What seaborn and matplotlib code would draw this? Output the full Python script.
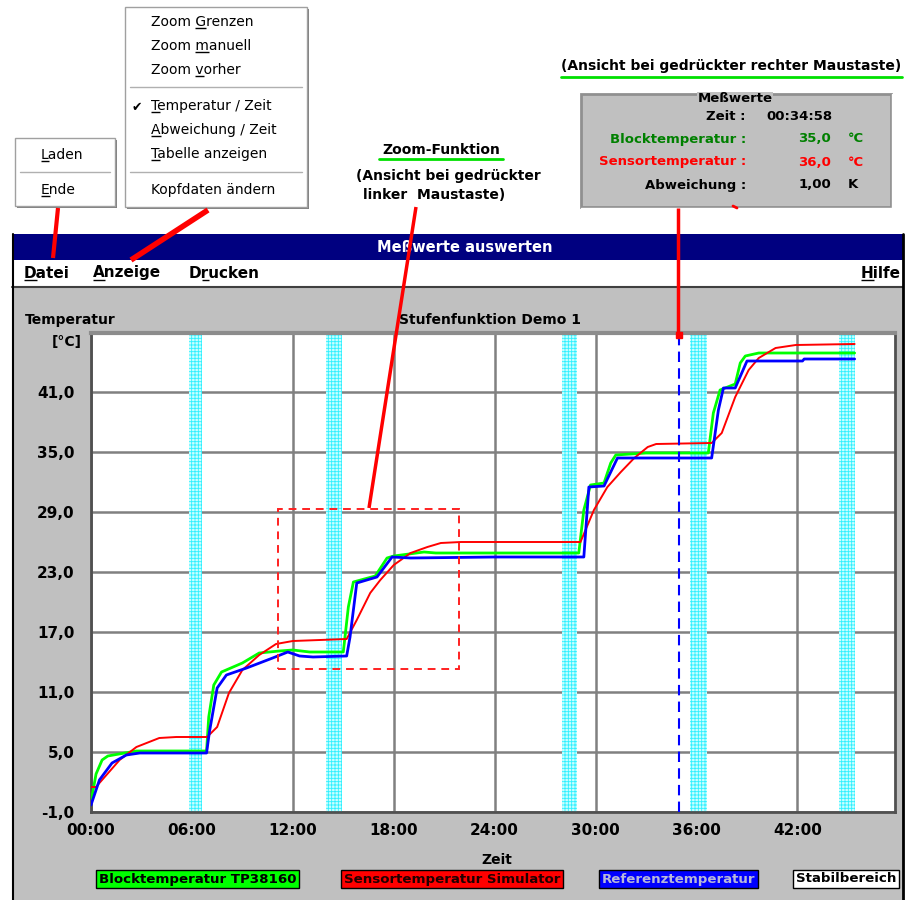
import pandas as pd
import matplotlib.pyplot as plt
import matplotlib.patches as mpatches
import seaborn as sns


# Messwerte: Zeit in Minuten, Temperatur in °C
block_t = [0, 0.3, 0.66, 1.0, 1.67, 2.7, 4.5, 6.87, 7.0, 7.3, 7.76, 9.0, 10.0, 11.2, 12.0, 13.0,
           15.0, 15.3, 15.6, 16.9, 17.6, 18.0, 19.8, 20.5, 29.0, 29.3, 29.7, 30.5, 30.9, 31.2,
           33.0, 36.7, 37.0, 37.4, 38.3, 38.6, 38.9, 39.7, 45.4]
block_v = [0.0, 2.8, 4.2, 4.6, 4.8, 5.1, 5.1, 5.1, 8.5, 11.7, 13.0, 13.9, 14.9, 15.1, 15.2, 15.0,
           15.0, 19.5, 22.0, 22.6, 24.4, 24.6, 25.0, 24.9, 24.9, 29.2, 31.7, 31.9, 33.9, 34.7,
           34.9, 34.9, 38.9, 41.2, 41.8, 43.9, 44.6, 44.9, 44.9]

sensor_t = [0, 0.3, 0.5, 1.7, 2.7, 4.06, 5.07, 6.9, 7.5, 8.2, 9.0, 10.0, 11.0, 12.0, 15.2,
            15.8, 16.6, 17.2, 18.0, 19.0, 20.0, 20.8, 22.0, 29.1, 29.9, 30.7, 31.5, 32.3,
            33.1, 33.6, 36.9, 37.5, 38.3, 39.1, 39.7, 40.7, 41.9, 45.4]
sensor_v = [1.5, 1.5, 1.9, 4.2, 5.5, 6.4, 6.5, 6.5, 7.5, 10.9, 13.2, 14.7, 15.8, 16.1, 16.3,
            18.2, 20.9, 22.2, 23.7, 24.9, 25.5, 25.9, 26.0, 26.0, 29.2, 31.5, 33.0, 34.4,
            35.5, 35.8, 35.9, 36.9, 40.5, 43.2, 44.4, 45.4, 45.7, 45.8]

ref_t = [0, 0.5, 1.25, 2.1, 2.9, 6.87, 7.04, 7.5, 8.05, 9.25, 10.8, 11.7, 12.4, 13.2, 15.2,
         15.4, 15.8, 17.0, 17.9, 19.0, 24.0, 29.3, 29.6, 30.5, 31.3, 36.9, 37.3, 37.6, 38.3,
         39.0, 42.3, 42.4, 45.4]
ref_v = [-0.3, 2.2, 3.9, 4.7, 4.9, 4.9, 7.0, 11.4, 12.7, 13.4, 14.4, 15.0, 14.6, 14.5, 14.6,
         16.5, 21.9, 22.5, 24.5, 24.4, 24.5, 24.5, 31.5, 31.6, 34.4, 34.4, 39.2, 41.4, 41.4,
         44.1, 44.1, 44.3, 44.3]

series_names = ['Blocktemperatur TP38160', 'Sensortemperatur Simulator', 'Referenztemperatur']
series_colors = ['#00ff00', '#ff0000', '#0000ff']

stab_start = [5.8, 14.0, 28.0, 35.6, 44.5]
stab_end = [6.6, 14.9, 28.9, 36.6, 45.4]

x_ticks = [0, 6, 12, 18, 24, 30, 36, 42]
x_labels = ['00:00', '06:00', '12:00', '18:00', '24:00', '30:00', '36:00', '42:00']
y_ticks = [-1, 5, 11, 17, 23, 29, 35, 41]
y_labels = ['-1,0', '5,0', '11,0', '17,0', '23,0', '29,0', '35,0', '41,0']

zoom_t = [11.1, 21.9]
zoom_v = [13.3, 29.3]
cursor_time = 34 + 58 / 60

GRAY = '#c0c0c0'
B = dict(fontweight='bold')


def ul_text(ax, rend, x, y, s, idx, size, color='black', weight='normal'):
    kw = dict(fontsize=size, color=color, fontweight=weight, ha='left', va='center')
    ax.text(x, y, s, **kw)
    w0 = 0
    if idx > 0:
        t0 = ax.text(x, y, s[:idx], **kw)
        w0 = t0.get_window_extent(rend).width
        t0.remove()
    t1 = ax.text(x, y, s[:idx + 1], **kw)
    w1 = t1.get_window_extent(rend).width
    t1.remove()
    uy = y + size * 0.62
    ax.plot([x + w0, x + w1], [uy, uy], color=color, lw=1, solid_capstyle='butt')


def draw_chrome(bg, rend):
    # Fenster
    bg.add_patch(mpatches.Rectangle((12, 286), 891, 620, fc=GRAY, ec='none'))
    bg.add_patch(mpatches.Rectangle((12, 234), 891, 26, fc='#000080', ec='none'))
    bg.text(465, 247, 'Meßwerte auswerten', color='white', fontsize=10.5, ha='center', va='center', **B)
    bg.add_patch(mpatches.Rectangle((12, 260), 891, 26, fc='white', ec='none'))
    bg.plot([12, 903], [286.5, 286.5], color='#404040', lw=1.5)
    bg.plot([12.5, 12.5], [234, 900], color='black', lw=1.5)
    bg.plot([903, 903], [234, 900], color='black', lw=2)
    ul_text(bg, rend, 24, 273, 'Datei', 0, 11, weight='bold')
    ul_text(bg, rend, 93, 273, 'Anzeige', 0, 11, weight='bold')
    ul_text(bg, rend, 189, 273, 'Drucken', 1, 11, weight='bold')
    ul_text(bg, rend, 861, 273, 'Hilfe', 0, 11, weight='bold')

    bg.text(25, 320, 'Temperatur', fontsize=10, ha='left', va='center', **B)
    bg.text(67, 342, '[°C]', fontsize=10, ha='center', va='center', **B)
    bg.text(490, 320, 'Stufenfunktion Demo 1', fontsize=10, ha='center', va='center', **B)
    bg.text(497, 860, 'Zeit', fontsize=10, ha='center', va='center', **B)

    # Legende
    legend_x = [96, 341, 599, 793]
    legend_fc = series_colors + ['white']
    legend_tc = ['black', '#200000', '#b8b8d8', 'black']
    for lx, name, fc, tc in zip(legend_x, series_names + ['Stabilbereich'], legend_fc, legend_tc):
        bg.text(lx + 3, 879, name, fontsize=9.6, color=tc, ha='left', va='center',
                bbox=dict(boxstyle='square,pad=0.2', fc=fc, ec='black', lw=1), **B)

    # Menue Datei
    bg.add_patch(mpatches.Rectangle((17, 140), 100, 68, fc='#808080', ec='none'))
    bg.add_patch(mpatches.Rectangle((15, 138), 100, 68, fc='white', ec='#a0a0a0', lw=1))
    ul_text(bg, rend, 41, 155, 'Laden', 0, 10)
    bg.plot([20, 110], [172, 172], color='#b0b0b0', lw=1)
    ul_text(bg, rend, 41, 190, 'Ende', 0, 10)

    # Menue Anzeige
    bg.add_patch(mpatches.Rectangle((127, 9), 182, 200, fc='#808080', ec='none'))
    bg.add_patch(mpatches.Rectangle((125, 7), 182, 200, fc='white', ec='#a0a0a0', lw=1))
    items = [('Zoom Grenzen', 5, 22), ('Zoom manuell', 5, 46), ('Zoom vorher', 5, 70),
             ('Temperatur / Zeit', 0, 106), ('Abweichung / Zeit', 0, 130),
             ('Tabelle anzeigen', 0, 154)]
    for s, idx, y in items:
        ul_text(bg, rend, 151, y, s, idx, 10)
    bg.text(151, 190, 'Kopfdaten ändern', fontsize=10, ha='left', va='center')
    bg.text(132, 107, '✔', fontsize=9, ha='left', va='center')
    bg.plot([130, 302], [87, 87], color='#b0b0b0', lw=1)
    bg.plot([130, 302], [172, 172], color='#b0b0b0', lw=1)

    # Erklaerungen
    bg.text(441, 150, 'Zoom-Funktion', fontsize=10, ha='center', va='center', **B)
    bg.plot([379, 503], [159, 159], color='#00e000', lw=2)
    bg.text(448, 176, '(Ansicht bei gedrückter', fontsize=10, ha='center', va='center', **B)
    bg.text(434, 195, 'linker  Maustaste)', fontsize=10, ha='center', va='center', **B)
    bg.text(731, 66, '(Ansicht bei gedrückter rechter Maustaste)', fontsize=10,
            ha='center', va='center', **B)
    bg.plot([561, 902], [77, 77], color='#00e000', lw=2)

    # Messwert-Box
    bg.add_patch(mpatches.Rectangle((581, 94), 310, 113, fc=GRAY, ec='#909090', lw=2))
    bg.plot([581, 892, 892], [208, 208, 94], color='white', lw=1)
    bg.text(735, 99, 'Meßwerte', fontsize=9.5, ha='center', va='center',
            bbox=dict(boxstyle='square,pad=0.05', fc=GRAY, ec='none'), **B)
    rows = [('Zeit :', '', '', 'black', 117),
            ('Blocktemperatur :', '35,0', '°C', '#008000', 139),
            ('Sensortemperatur :', '36,0', '°C', '#ff0000', 162),
            ('Abweichung :', '1,00', 'K', 'black', 185)]
    for lab, val, unit, col, y in rows:
        bg.text(746, y, lab, fontsize=9.5, color=col, ha='right', va='center', **B)
        if val:
            bg.text(831, y, val, fontsize=9.5, color=col, ha='right', va='center', **B)
            bg.text(848, y, unit, fontsize=9.5, color=col, ha='left', va='center', **B)
    bg.text(766, 117, '00:34:58', fontsize=9.5, ha='left', va='center', **B)


def draw_plot(ax):
    frames = []
    for name, t, v in zip(series_names, [block_t, sensor_t, ref_t], [block_v, sensor_v, ref_v]):
        frames.append(pd.DataFrame({'Zeit': t, 'Temperatur': v, 'Kurve': name}))
    df = pd.concat(frames, ignore_index=True)

    for s, e in zip(stab_start, stab_end):
        ax.axvspan(s, e, fc='#c8ffff', ec='#30f0ff', hatch='+++++', lw=0, zorder=1)

    sns.lineplot(data=df, x='Zeit', y='Temperatur', hue='Kurve', hue_order=series_names,
                 palette=dict(zip(series_names, series_colors)), estimator=None, sort=False,
                 linewidth=2, legend=False, ax=ax, zorder=3)
    ax.lines[1].set_linewidth(1.4)

    ax.add_patch(mpatches.Rectangle((zoom_t[0], zoom_v[0]), zoom_t[1] - zoom_t[0],
                                    zoom_v[1] - zoom_v[0], fill=False, ec='#ff2020',
                                    lw=1.4, ls=(0, (4, 3)), zorder=4))
    ax.axvline(cursor_time, color='#0000ff', lw=1.5, ls=(0, (5, 3)), zorder=4)
    ax.plot([cursor_time], [46.7], 's', color='red', ms=4, clip_on=False, zorder=5)

    ax.set_xlim(0, 47.8)
    ax.set_ylim(-1, 46.9)
    ax.set_xticks(x_ticks)
    ax.set_xticklabels(x_labels)
    ax.set_yticks(y_ticks)
    ax.set_yticklabels(y_labels)
    ax.tick_params(length=0, labelsize=11, pad=8, labelcolor='black')
    ax.tick_params(axis='y', pad=12)
    for lab in ax.get_xticklabels() + ax.get_yticklabels():
        lab.set_fontweight('bold')
    ax.grid(True, color='#808080', lw=1.8)
    ax.set_xlabel('')
    ax.set_ylabel('')
    for sp in ax.spines.values():
        sp.set_color('#505050')
        sp.set_linewidth(2)
    ax.spines['top'].set_color('#8c8c8c')
    ax.spines['top'].set_linewidth(3)


def main():
    sns.set_style('white')
    plt.rcParams['font.family'] = ['DejaVu Sans']
    plt.rcParams['text.color'] = 'black'
    plt.rcParams['hatch.linewidth'] = 0.6

    fig = plt.figure(figsize=(9.14, 9.0), dpi=100)
    fig.patch.set_facecolor('white')
    rend = fig.canvas.get_renderer()

    bg = fig.add_axes([0, 0, 1, 1], zorder=0)
    bg.set_xlim(0, 914)
    bg.set_ylim(900, 0)
    bg.axis('off')
    draw_chrome(bg, rend)

    ax = fig.add_axes([91 / 914, 88 / 900, 804 / 914, 479 / 900], zorder=1)
    ax.set_facecolor('white')
    draw_plot(ax)

    # rote Hinweislinien
    ov = fig.add_axes([0, 0, 1, 1], zorder=2)
    ov.set_xlim(0, 914)
    ov.set_ylim(900, 0)
    ov.axis('off')
    ov.patch.set_visible(False)
    ov.plot([58, 53], [208, 258], color='red', lw=3, solid_capstyle='butt')
    ov.plot([208, 131], [210, 260], color='red', lw=4, solid_capstyle='butt')
    ov.plot([416, 369], [207, 508], color='red', lw=2.5, solid_capstyle='butt')
    ov.plot([678, 678], [208, 333], color='red', lw=2.5, solid_capstyle='butt')
    ov.plot([733, 737], [206, 208], color='red', lw=2)

    fig.savefig('out.png', dpi=100)
    plt.close(fig)


if __name__ == '__main__':
    main()
